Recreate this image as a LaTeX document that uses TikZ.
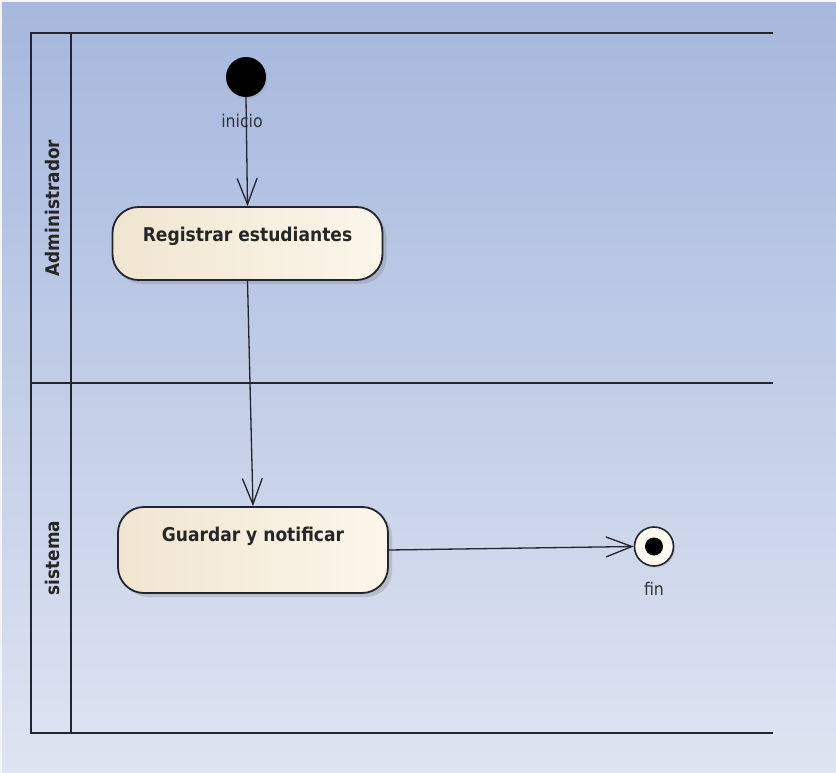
\documentclass[tikz,border=0pt]{standalone}
\usepackage{fontspec}
\setmainfont{DejaVu Sans Condensed}
\usetikzlibrary{arrows.meta,shadows}
\definecolor{bgtop}{RGB}{166,183,221}
\definecolor{bgbot}{RGB}{222,228,241}
\definecolor{edge}{RGB}{34,36,46}
\definecolor{creamL}{RGB}{240,229,208}
\definecolor{creamR}{RGB}{252,246,234}
\definecolor{finfill}{RGB}{253,250,242}
\tikzset{
  lane/.style={draw=edge, line width=2pt},
  actbox/.style={draw=edge, line width=1.8pt, rounded corners=26pt,
    left color=creamL, right color=creamR, minimum width=270pt,
    inner sep=0pt,
    drop shadow={shadow xshift=4pt, shadow yshift=-4pt, opacity=0.3}},
  acttext/.style={font=\bfseries\fontsize{19}{22}\selectfont, text=black!85, inner sep=0pt},
  lanetext/.style={font=\bfseries\fontsize{18.8}{22}\selectfont, text=black!85, rotate=90, inner sep=0pt},
  smalltext/.style={font=\fontsize{17.5}{20}\selectfont, text=black!80, inner sep=0pt},
  flow/.style={draw=edge, line width=1.3pt, -{Straight Barb[length=26pt,width=20pt,line width=1.3pt]}},
}
\begin{document}
\begin{tikzpicture}[x=1pt,y=-1pt]
\useasboundingbox (0,0) rectangle (836,773);
\shade[top color=bgtop, bottom color=bgbot] (0,0) rectangle (836,773);
\draw[white!60!bgbot, line width=4pt] (0,773) -- (0,0) -- (836,0);
% swimlanes
\draw[lane] (773,33) -- (31,33) -- (31,733) -- (773,733);
\draw[lane] (71,33) -- (71,733);
\draw[lane] (31,383) -- (773,383);
\node[lanetext] (ladm) at (52,208) {Administrador};
\node[lanetext] (lsis) at (52,558) {sistema};
% nodes
\node[circle, fill=black, minimum size=40pt, inner sep=0pt,
      drop shadow={shadow xshift=1.5pt, shadow yshift=-1.5pt, opacity=0.2}] (ini) at (246,77) {};
\node[smalltext] (linicio) at (242,121) {inicio};
\node[actbox, minimum height=73pt] (reg) at (247.5,243.5) {};
\node[acttext] (treg) at (247.5,236) {Registrar estudiantes};
\node[actbox, minimum height=86pt] (gua) at (253,550) {};
\node[acttext] (tgua) at (253,536) {Guardar y notificar};
\node[circle, draw=edge, line width=1.6pt, fill=finfill, minimum size=39pt, inner sep=0pt,
      drop shadow={shadow xshift=1.5pt, shadow yshift=-1.5pt, opacity=0.25}] (fin) at (654,546.5) {};
\node[circle, fill=black, minimum size=18pt, inner sep=0pt] (fininner) at (fin.center) {};
\node[smalltext] (lfin) at (654,589) {fin};
% flows
\draw[flow] (ini.south) -- (reg.north);
\draw[flow] (reg.south) -- (gua.north);
\draw[flow] (gua.east) -- (fin.west);
\end{tikzpicture}
\end{document}
